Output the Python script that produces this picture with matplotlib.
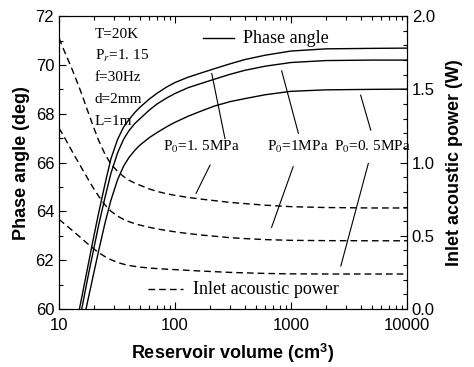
import matplotlib
matplotlib.use("Agg")
import matplotlib.pyplot as plt
from matplotlib.ticker import FixedLocator, MultipleLocator

# phase angle (deg) vs reservoir volume (cm^3)
vol_15 = [15.0, 16, 17, 18, 20, 22, 25, 28, 32, 36, 40, 45, 50, 60, 70, 85, 100, 130, 170, 220, 300, 400, 600, 1000, 2000, 5000, 10000]
phase_15 = [60.0, 60.67, 61.3, 61.9, 63.0, 63.95, 65.15, 66.15, 66.95, 67.45, 67.75, 68.05, 68.27, 68.6, 68.84, 69.1, 69.28,
            69.5, 69.68, 69.85, 70.05, 70.22, 70.4, 70.57, 70.66, 70.68, 70.69]
vol_10 = [15.7, 16, 17, 18, 20, 22, 25, 28, 32, 36, 40, 45, 50, 60, 70, 85, 100, 130, 170, 220, 300, 400, 600, 1000, 2000, 5000, 10000]
phase_10 = [60.0, 60.2, 60.85, 61.45, 62.5, 63.45, 64.6, 65.55, 66.4, 66.95, 67.3, 67.6, 67.8, 68.15, 68.4, 68.65, 68.83,
            69.07, 69.25, 69.42, 69.62, 69.78, 69.95, 70.1, 70.18, 70.2, 70.2]
vol_05 = [17.1, 18, 20, 22, 25, 28, 32, 36, 40, 45, 50, 60, 70, 85, 100, 130, 170, 220, 300, 400, 600, 1000, 2000, 5000, 10000]
phase_05 = [60.0, 60.5, 61.5, 62.4, 63.55, 64.45, 65.3, 65.85, 66.2, 66.5, 66.72, 67.02, 67.23, 67.47, 67.65,
            67.9, 68.12, 68.32, 68.5, 68.62, 68.78, 68.92, 68.98, 69.0, 69.01]

# inlet acoustic power (W)
vol_p = [10, 11, 12, 13, 14, 15, 16, 17, 18, 20, 22, 25, 28, 32, 36, 40, 45, 50, 60, 70, 85, 100, 130, 170, 220, 300,
         400, 600, 1000, 2000, 5000, 10000]
power_15 = [1.85, 1.77, 1.70, 1.635, 1.57, 1.51, 1.45, 1.39, 1.335, 1.235, 1.15, 1.055, 0.99, 0.94, 0.905, 0.88, 0.86,
            0.845, 0.82, 0.803, 0.787, 0.776, 0.762, 0.75, 0.74, 0.728, 0.72, 0.709, 0.699, 0.693, 0.69, 0.69]
power_10 = [1.235, 1.18, 1.125, 1.075, 1.03, 0.99, 0.95, 0.915, 0.88, 0.82, 0.77, 0.71, 0.668, 0.635, 0.612, 0.597, 0.583,
            0.573, 0.558, 0.547, 0.536, 0.527, 0.515, 0.505, 0.497, 0.487, 0.481, 0.474, 0.469, 0.467, 0.466, 0.466]
power_05 = [0.612, 0.585, 0.56, 0.537, 0.515, 0.495, 0.475, 0.457, 0.44, 0.41, 0.385, 0.357, 0.337, 0.318, 0.306, 0.298,
            0.291, 0.286, 0.28, 0.276, 0.272, 0.269, 0.264, 0.259, 0.255, 0.25, 0.247, 0.243, 0.24, 0.239, 0.239, 0.239]

plt.rcParams['font.family'] = ['Liberation Sans', 'DejaVu Sans']
plt.rcParams['mathtext.fontset'] = 'stix'
serif = ['Liberation Serif', 'DejaVu Serif']

fig = plt.figure(figsize=(4.74, 3.67), dpi=100)
ax = fig.add_axes([0.1245, 0.158, 0.734, 0.798])
ax2 = ax.twinx()

dash = (4.8, 2.9)
for v, p in [(vol_15, phase_15), (vol_10, phase_10), (vol_05, phase_05)]:
    ax.plot(v, p, color='black', lw=1.0)
for p in [power_15, power_10, power_05]:
    ax2.plot(vol_p, p, color='black', lw=1.0, dashes=dash)

ax.set_xscale('log')
ax.set_xlim(10, 10000)
ax.set_ylim(60, 72)
ax2.set_ylim(0, 2.0)
ax.xaxis.set_major_locator(FixedLocator([10, 100, 1000, 10000]))
ax.set_xticklabels(['10', '100', '1000', '10000'])
ax.yaxis.set_major_locator(MultipleLocator(2))
ax.yaxis.set_minor_locator(MultipleLocator(1))
ax2.yaxis.set_major_locator(MultipleLocator(0.5))
ax2.yaxis.set_minor_locator(MultipleLocator(0.1))
ax2.set_yticklabels([f'{t:.1f}' for t in ax2.get_yticks()])

ax.tick_params(which='both', direction='in', top=True, right=False, labelsize=12)
ax.tick_params(which='major', length=5, width=0.8)
ax.tick_params(which='minor', length=3, width=0.8)
ax.tick_params(axis='x', pad=6.5)
ax2.tick_params(which='both', direction='in', labelsize=12)
ax2.tick_params(which='major', length=5, width=0.8)
ax2.tick_params(which='minor', length=3, width=0.8)

ax.set_xlabel('Reservoir volume (cm$^\\mathregular{3}$)', fontsize=13, fontweight='bold', labelpad=6)
ax.set_ylabel('Phase angle (deg)', fontsize=13, fontweight='bold')
ax2.set_ylabel('Inlet acoustic power (W)', fontsize=13, fontweight='bold', labelpad=8)

# parameter block
params = ['T=20K', 'P$_r$=1. 15', 'f=30Hz', 'd=2mm', 'L=1m']
for i, s in enumerate(params):
    ax.text(0.103, 0.939 - i * 0.0743, s, transform=ax.transAxes, family=serif,
            fontsize=11, va='center', ha='left')

# legend-like keys
ax.plot([0.414, 0.502], [0.925, 0.925], transform=ax.transAxes, color='black', lw=1.0)
ax.text(0.529, 0.925, 'Phase angle', transform=ax.transAxes, family=serif,
        fontsize=13, va='center')
ax.plot([0.256, 0.356], [0.068, 0.068], transform=ax.transAxes, color='black', lw=1.0, dashes=dash)
ax.text(0.385, 0.068, 'Inlet acoustic power', transform=ax.transAxes, family=serif,
        fontsize=13, va='center')

# pressure labels with pointer lines
labels = [('P$_0$=1. 5MPa', 0.299), ('P$_0$=1MPa', 0.597), ('P$_0$=0. 5MPa', 0.79)]
for s, x in labels:
    ax.text(x, 0.553, s, transform=ax.transAxes, family=serif, fontsize=11, va='center')
pointers = [
    ((0.439, 0.804), (0.477, 0.582)),
    ((0.434, 0.491), (0.394, 0.395)),
    ((0.640, 0.813), (0.688, 0.600)),
    ((0.673, 0.486), (0.611, 0.279)),
    ((0.867, 0.730), (0.896, 0.611)),
    ((0.889, 0.497), (0.810, 0.147)),
]
for (x0, y0), (x1, y1) in pointers:
    ax.plot([x0, x1], [y0, y1], transform=ax.transAxes, color='black', lw=0.8)

fig.savefig('out.png', dpi=100)
